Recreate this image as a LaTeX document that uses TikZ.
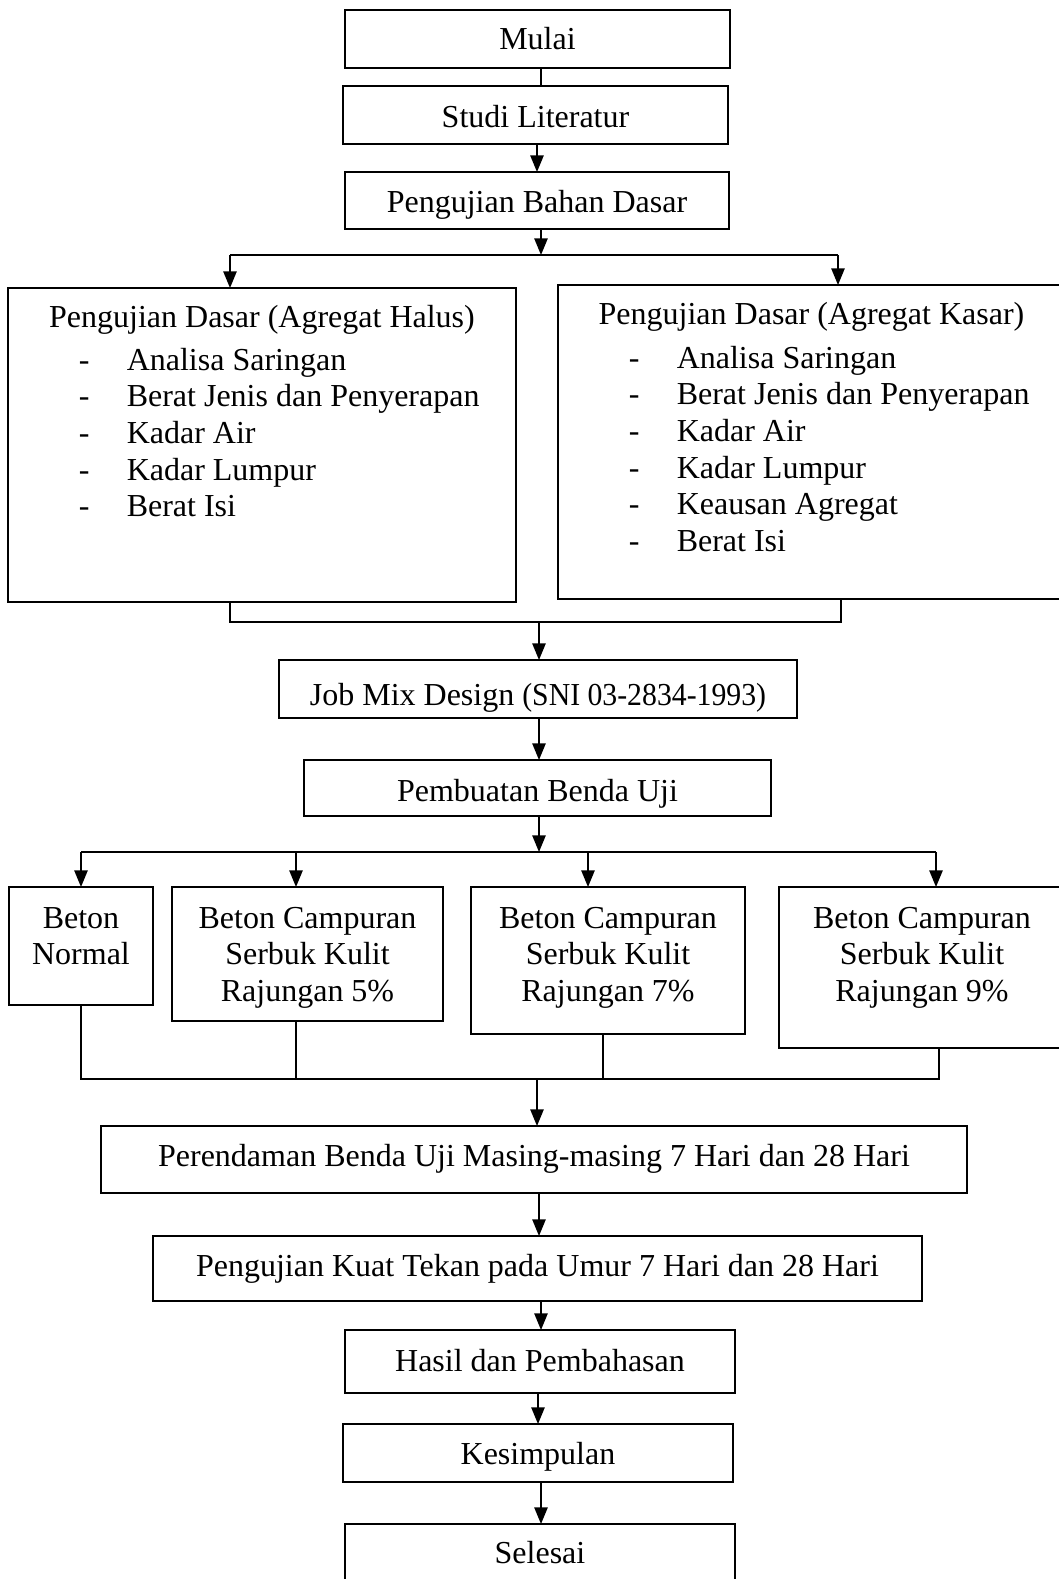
\documentclass[tikz,border=0pt]{standalone}
\usepackage{fontspec}
\setmainfont{Liberation Serif}
\usetikzlibrary{arrows.meta,calc}
\newcommand\mybox[5]{\node[boxst, minimum width={(#4-#2)*0.75pt}, minimum height={(#5-#3)*0.75pt}] (#1) at ({(#2+#4)/2},{(#3+#5)/2}) {};}
\begin{document}
\begin{tikzpicture}[x=0.75pt,y=-0.75pt,line width=1.2pt,
  boxst/.style={draw, rectangle, inner sep=0pt, outer sep=0pt},
  txt/.style={anchor=base, inner sep=0pt, font=\fontsize{24}{27.5}\selectfont},
  arr/.style={-{Triangle[length=12.5pt,width=10pt]}}]
\clip (0,0) rectangle (1059,1579);
% boxes
\mybox{mulai}{345}{10}{730}{68}
\mybox{studi}{343}{86}{728}{144}
\mybox{bahan}{345}{172}{729}{229}
\mybox{halus}{8}{288}{516}{602}
\mybox{kasar}{558}{285}{1065}{599}
\mybox{jobmix}{279}{660}{797}{718}
\mybox{buat}{304}{760}{771}{816}
\mybox{bz}{9}{887}{153}{1005}
\mybox{bf}{172}{887}{443}{1021}
\mybox{bs}{471}{887}{745}{1034}
\mybox{bn}{779}{887}{1065}{1048}
\mybox{rendam}{101}{1126}{967}{1193}
\mybox{kuat}{153}{1236}{922}{1301}
\mybox{hasil}{345}{1330}{735}{1393}
\mybox{simpul}{343}{1424}{733}{1482}
\mybox{selesai}{345}{1524}{735}{1600}
% texts
\node[txt] (mulaiT) at ($(mulai.north)+(0,39)$) {Mulai};
\node[txt] (studiT) at ($(studi.north)+(0,41)$) {Studi Literatur};
\node[txt] (bahanT) at ($(bahan.north)+(0,40)$) {Pengujian Bahan Dasar};
\node[txt] (halusH) at ($(halus.north)+(0,39)$) {Pengujian Dasar (Agregat Halus)};
\node[txt, anchor=base west] (halusL) at ($(halus.north west)+(70,82)$)
  {\begin{tabular}[t]{@{}p{36pt}@{}l@{}}
  - & Analisa Saringan\\
  - & Berat Jenis dan Penyerapan\\
  - & Kadar Air\\
  - & Kadar Lumpur\\
  - & Berat Isi
  \end{tabular}};
\node[txt] (kasarH) at ($(kasar.north)+(0,39)$) {Pengujian Dasar (Agregat Kasar)};
\node[txt, anchor=base west] (kasarL) at ($(kasar.north west)+(70,83)$)
  {\begin{tabular}[t]{@{}p{36pt}@{}l@{}}
  - & Analisa Saringan\\
  - & Berat Jenis dan Penyerapan\\
  - & Kadar Air\\
  - & Kadar Lumpur\\
  - & Keausan Agregat\\
  - & Berat Isi
  \end{tabular}};
\node[txt] (jobmixT) at ($(jobmix.north)+(0,45)$) {Job Mix Design \scalebox{0.93}[1]{(SNI 03-2834-1993)}};
\node[txt] (buatT) at ($(buat.north)+(0,41)$) {Pembuatan Benda Uji};
\node[txt] (bzT) at ($(bz.north)+(0,41)$) {\begin{tabular}[t]{@{}c@{}}Beton\\Normal\end{tabular}};
\node[txt] (bfT) at ($(bf.north)+(0,41)$) {\begin{tabular}[t]{@{}c@{}}Beton Campuran\\Serbuk Kulit\\Rajungan 5\%\end{tabular}};
\node[txt] (bsT) at ($(bs.north)+(0,41)$) {\begin{tabular}[t]{@{}c@{}}Beton Campuran\\Serbuk Kulit\\Rajungan 7\%\end{tabular}};
\node[txt] (bnT) at ($(bn.north)+(0,41)$) {\begin{tabular}[t]{@{}c@{}}Beton Campuran\\Serbuk Kulit\\Rajungan 9\%\end{tabular}};
\node[txt] (rendamT) at ($(rendam.north)+(0,40)$) {Perendaman Benda Uji Masing-masing 7 Hari dan 28 Hari};
\node[txt] (kuatT) at ($(kuat.north)+(0,40)$) {Pengujian Kuat Tekan pada Umur 7 Hari dan 28 Hari};
\node[txt] (hasilT) at ($(hasil.north)+(0,41)$) {Hasil dan Pembahasan};
\node[txt] (simpulT) at ($(simpul.north)+(0,40)$) {Kesimpulan};
\node[txt] (selesaiT) at ($(selesai.north)+(0,39)$) {Selesai};
% connector coordinates
\coordinate (xa) at (541,0);
\coordinate (xb) at (537,0);
\coordinate (j1) at (541,255);
\coordinate (j1l) at (230,255);
\coordinate (j1r) at (838,255);
\coordinate (j2) at (539,622);
\coordinate (j2l) at (230,622);
\coordinate (j2r) at (841,622);
\coordinate (xc) at (539,0);
\coordinate (j3) at (539,852);
\coordinate (j3a) at (81,852);
\coordinate (j3b) at (296,852);
\coordinate (j3c) at (588,852);
\coordinate (j3d) at (936,852);
\coordinate (j4) at (537,1079);
\coordinate (j4a) at (81,1079);
\coordinate (j4b) at (296,1079);
\coordinate (j4c) at (603,1079);
\coordinate (j4d) at (939,1079);
\coordinate (xd) at (539,0);
\coordinate (xe) at (541,0);
\coordinate (xf) at (538,0);
\coordinate (xg) at (541,0);
% connectors
\draw (mulai.south -| xa) -- (studi.north -| xa);
\draw[arr] (studi.south -| xb) -- (bahan.north -| xb);
\draw[arr] (bahan.south -| j1) -- (j1);
\draw (j1l) -- (j1r);
\draw[arr] (j1l) -- (j1l |- halus.north);
\draw[arr] (j1r) -- (j1r |- kasar.north);
\draw (halus.south -| j2l) -- (j2l) -- (j2r) -- (kasar.south -| j2r);
\draw[arr] (j2) -- (jobmix.north -| j2);
\draw[arr] (jobmix.south -| xc) -- (buat.north -| xc);
\draw[arr] (buat.south -| j3) -- (j3);
\draw (j3a) -- (j3d);
\draw[arr] (j3a) -- (j3a |- bz.north);
\draw[arr] (j3b) -- (j3b |- bf.north);
\draw[arr] (j3c) -- (j3c |- bs.north);
\draw[arr] (j3d) -- (j3d |- bn.north);
\draw (bz.south -| j4a) -- (j4a) -- (j4d) -- (bn.south -| j4d);
\draw (bf.south -| j4b) -- (j4b);
\draw (bs.south -| j4c) -- (j4c);
\draw[arr] (j4) -- (rendam.north -| j4);
\draw[arr] (rendam.south -| xd) -- (kuat.north -| xd);
\draw[arr] (kuat.south -| xe) -- (hasil.north -| xe);
\draw[arr] (hasil.south -| xf) -- (simpul.north -| xf);
\draw[arr] (simpul.south -| xg) -- (selesai.north -| xg);
\end{tikzpicture}
\end{document}
